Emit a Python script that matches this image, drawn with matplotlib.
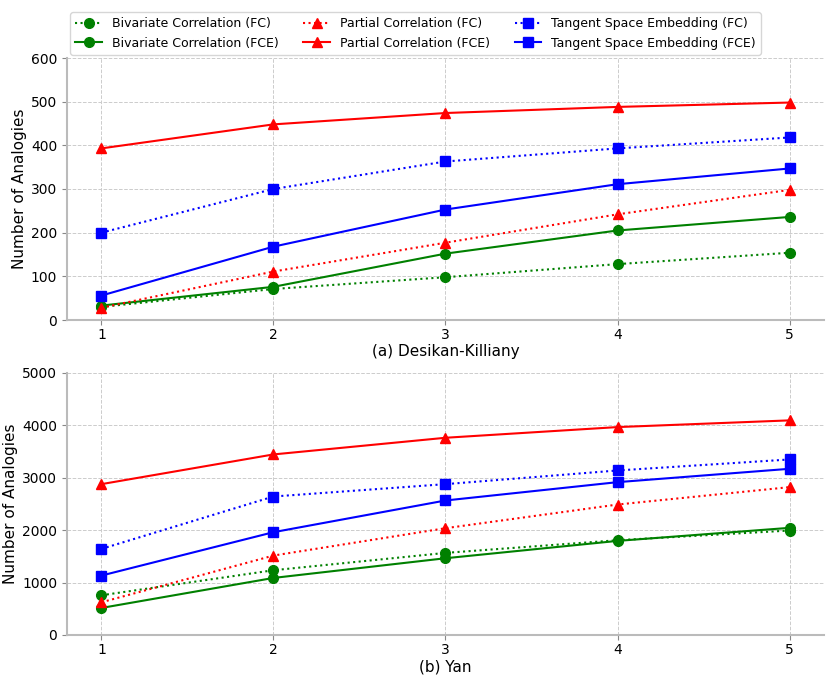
import matplotlib
matplotlib.use("Agg")
import matplotlib.pyplot as plt

x = [1, 2, 3, 4, 5]

# (a) Desikan-Killiany
dk_biv_fc = [30, 71, 98, 128, 154]
dk_biv_fce = [33, 76, 152, 205, 236]
dk_par_fc = [28, 111, 177, 242, 298]
dk_par_fce = [393, 448, 474, 488, 498]
dk_tan_fc = [200, 300, 363, 393, 418]
dk_tan_fce = [56, 168, 253, 311, 347]

# (b) Yan
yan_biv_fc = [758, 1236, 1567, 1809, 1994]
yan_biv_fce = [516, 1089, 1465, 1796, 2045]
yan_par_fc = [624, 1516, 2038, 2490, 2822]
yan_par_fce = [2879, 3446, 3764, 3968, 4096]
yan_tan_fc = [1643, 2643, 2879, 3140, 3350]
yan_tan_fce = [1134, 1962, 2567, 2917, 3172]

labels = ["Bivariate Correlation (FC)", "Bivariate Correlation (FCE)",
          "Partial Correlation (FC)", "Partial Correlation (FCE)",
          "Tangent Space Embedding (FC)", "Tangent Space Embedding (FCE)"]
colors = ["green", "green", "red", "red", "blue", "blue"]
markers = ["o", "o", "^", "^", "s", "s"]
styles = [":", "-", ":", "-", ":", "-"]

fig = plt.figure(figsize=(8.31, 6.81), dpi=100)
ax1 = fig.add_axes([0.0806, 1 - 320 / 681, 0.911, 262 / 681])
ax2 = fig.add_axes([0.0806, 1 - 635 / 681, 0.911, 262 / 681])

def draw(ax, series, ylim, yticks, xlabel):
    handles = []
    for s, lab, c, m, ls in zip(series, labels, colors, markers, styles):
        h, = ax.plot(x, s, color=c, marker=m, linestyle=ls, linewidth=1.5,
                     markersize=7, label=lab)
        handles.append(h)
    ax.set_ylim(*ylim)
    ax.set_yticks(yticks)
    ax.set_xticks(x)
    ax.set_xlim(0.8, 5.2)
    ax.grid(True, linestyle="--", color="#cccccc", linewidth=0.7)
    ax.set_axisbelow(True)
    for sp in ["top", "right"]:
        ax.spines[sp].set_visible(False)
    for sp in ["left", "bottom"]:
        ax.spines[sp].set_color("#bbbbbb")
        ax.spines[sp].set_linewidth(1.5)
    ax.tick_params(colors="black", labelsize=10)
    ax.tick_params(axis="both", color="#888888")
    ax.tick_params(axis="x", pad=2.5)
    ax.set_ylabel("Number of Analogies", fontsize=11, labelpad=3)
    ax.set_xlabel(xlabel, fontsize=11, labelpad=1.5)
    return handles

handles = draw(ax1, [dk_biv_fc, dk_biv_fce, dk_par_fc, dk_par_fce, dk_tan_fc, dk_tan_fce],
               (0, 600), [0, 100, 200, 300, 400, 500, 600], "(a) Desikan-Killiany")
draw(ax2, [yan_biv_fc, yan_biv_fce, yan_par_fc, yan_par_fce, yan_tan_fc, yan_tan_fce],
     (0, 5000), [0, 1000, 2000, 3000, 4000, 5000], "(b) Yan")

fig.legend(handles=handles, labels=labels, loc="upper center", ncol=3,
           bbox_to_anchor=(0.5, 0.991), fontsize=9, frameon=True,
           handlelength=2.1, columnspacing=2.0, labelspacing=0.5, borderpad=0.4)

fig.savefig("out.png", dpi=100)
